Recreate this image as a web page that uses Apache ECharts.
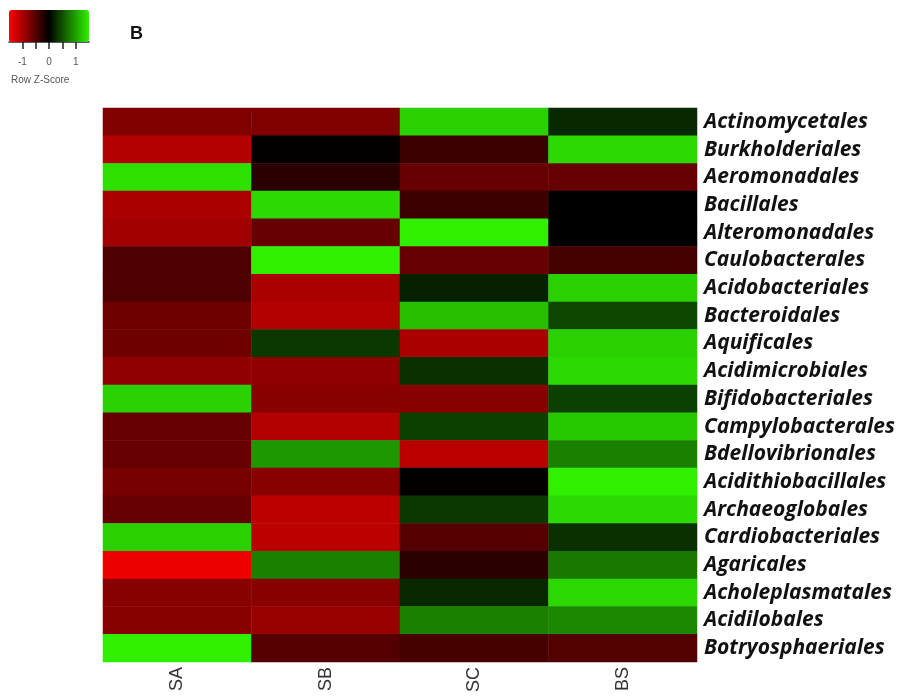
<!DOCTYPE html>
<html>
<head>
<meta charset="utf-8">
<script src="https://cdn.jsdelivr.net/npm/echarts@6/dist/echarts.min.js"></script>
<style>
  html, body { margin: 0; padding: 0; background: #ffffff; }
  #chart { width: 908px; height: 696px; }
</style>
</head>
<body>
<div id="chart"></div>
<script>
// Samples (columns)
const samples = ['SA', 'SB', 'SC', 'BS'];

// Orders (rows, top to bottom)
const orders = [
  'Actinomycetales', 'Burkholderiales', 'Aeromonadales', 'Bacillales',
  'Alteromonadales', 'Caulobacterales', 'Acidobacteriales', 'Bacteroidales',
  'Aquificales', 'Acidimicrobiales', 'Bifidobacteriales', 'Campylobacterales',
  'Bdellovibrionales', 'Acidithiobacillales', 'Archaeoglobales', 'Cardiobacteriales',
  'Agaricales', 'Acholeplasmatales', 'Acidilobales', 'Botryosphaeriales'
];

// Row z-scores per sample, one entry per order
const zSA = [-0.75, -1.05,  1.4,  -1.0,  -0.95, -0.45, -0.45, -0.65, -0.65, -0.85,
              1.3,  -0.6,  -0.6,  -0.7,  -0.6,   1.3,  -1.4,  -0.8,  -0.8,   1.5];
const zSB = [-0.75, -0.03, -0.25,  1.35, -0.6,   1.5,  -1.0,  -1.05,  0.35, -0.85,
             -0.8,  -1.05,  0.95, -0.8,  -1.1,  -1.1,   0.8,  -0.8,  -0.9,  -0.5];
const zSC = [ 1.3,  -0.35, -0.6,  -0.35,  1.5,  -0.6,   0.2,   1.2,  -1.0,   0.3,
             -0.8,   0.4,  -1.1,  -0.03,  0.35, -0.5,  -0.25,  0.25,  0.8,  -0.42];
const zBS = [ 0.25,  1.35, -0.6,   0.0,   0.0,  -0.42,  1.3,   0.45,  1.3,   1.35,
              0.4,   1.25,  0.8,   1.5,   1.35,  0.3,   0.75,  1.35,  0.85, -0.48];

// Colour key ticks
const keyTicks = [-1, -0.5, 0, 0.5, 1];
const keyLabels = [-1, 0, 1];

const columns = [zSA, zSB, zSC, zBS];
const cells = [];
columns.forEach((col, ci) => {
  col.forEach((v, ri) => cells.push([ci, ri, v]));
});

const chart = echarts.init(document.getElementById('chart'), null, { renderer: 'canvas' });

chart.setOption({
  backgroundColor: '#ffffff',
  animation: false,
  grid: [
    { left: 103, right: 211, top: 108, bottom: 34 },
    { left: 9, top: 10, width: 80, height: 32 }
  ],
  xAxis: [
    {
      type: 'category', gridIndex: 0, data: samples, position: 'bottom',
      axisLine: { show: false }, axisTick: { show: false }, splitLine: { show: false },
      axisLabel: {
        rotate: 90, margin: 5, color: '#333', fontSize: 18,
        fontFamily: 'Liberation Sans, Arial, sans-serif'
      }
    },
    {
      type: 'value', gridIndex: 1, min: -1.5, max: 1.5, position: 'bottom',
      axisLine: { show: true, lineStyle: { color: '#222', width: 1.5 } },
      axisTick: { show: true, length: 7, lineStyle: { color: '#222', width: 1.5 }, customValues: keyTicks },
      axisLabel: { customValues: keyLabels, fontSize: 10, color: '#555', margin: 15,
        fontFamily: 'Liberation Sans, Arial, sans-serif' },
      splitLine: { show: false }
    }
  ],
  yAxis: [
    {
      type: 'category', gridIndex: 0, data: orders, inverse: true, position: 'right',
      axisLine: { show: false }, axisTick: { show: false }, splitLine: { show: false },
      axisLabel: {
        margin: 7, color: '#111', fontSize: 21, fontWeight: 'bold', fontStyle: 'italic',
        fontFamily: 'Open Sans, Lato, sans-serif'
      }
    },
    {
      type: 'value', gridIndex: 1, show: false, min: 0, max: 1
    }
  ],
  visualMap: {
    type: 'continuous',
    seriesIndex: 0,
    min: -1.5, max: 1.5,
    orient: 'horizontal',
    left: 9, top: 10,
    itemWidth: 32, itemHeight: 80,
    padding: 0,
    text: null,
    showLabel: false,
    calculable: false,
    realtime: false,
    hoverLink: false,
    inRange: { color: ['#ff0000', '#000000', '#30f000'] }
  },
  graphic: [
    {
      type: 'text', left: 130, top: 25,
      style: { text: 'B', fontSize: 18, fontWeight: 'bold', fill: '#111',
        fontFamily: 'Liberation Sans, Arial, sans-serif' }
    },
    {
      type: 'text', left: 11, top: 75,
      style: { text: 'Row Z-Score', fontSize: 10, fill: '#555',
        fontFamily: 'Liberation Sans, Arial, sans-serif' }
    }
  ],
  series: [
    {
      type: 'heatmap', xAxisIndex: 0, yAxisIndex: 0,
      data: cells,
      itemStyle: { borderWidth: 0 },
      emphasis: { disabled: true }
    }
  ]
});
</script>
</body>
</html>
